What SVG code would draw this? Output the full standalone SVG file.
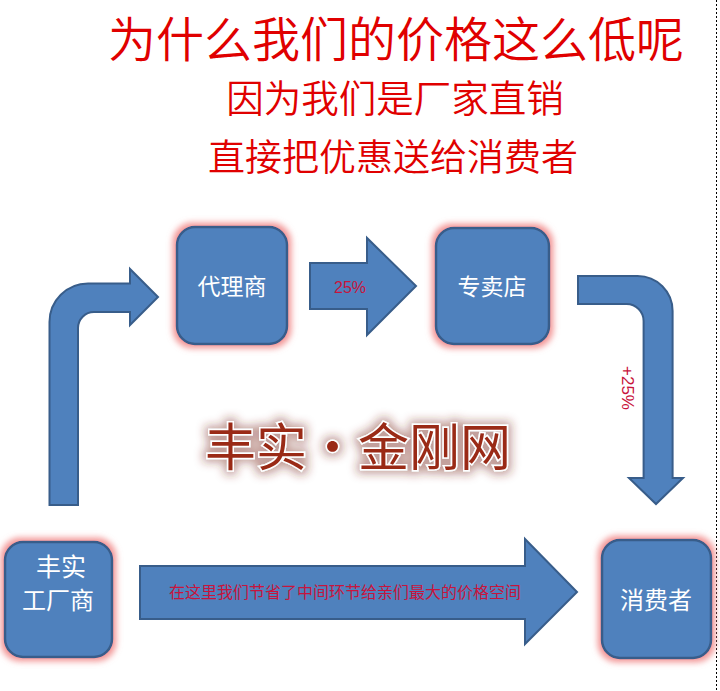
<svg xmlns="http://www.w3.org/2000/svg" width="720" height="691" viewBox="0 0 720 691">
<defs>
<style>
.box{fill:#4F81BD;stroke:#385D8A;stroke-width:2.5;filter:url(#glow)}
.arr{fill:#4F81BD;stroke:#385D8A;stroke-width:2;stroke-linejoin:miter}
.nt{font-family:"Noto Sans CJK SC","Noto Sans",sans-serif;fill:#ffffff;text-anchor:middle}
.title{font-family:"Noto Sans CJK SC",sans-serif;font-weight:350;fill:#e00000;text-anchor:middle}
.lbl{font-family:"Liberation Sans","Noto Sans CJK SC",sans-serif;fill:#c8143c;text-anchor:middle}
.wm{font-family:"Noto Sans CJK SC",sans-serif;font-size:51px;fill:#9a2a18;stroke:#ffffff;stroke-width:3;paint-order:stroke;text-anchor:middle;filter:url(#wmglow)}
</style>
<filter id="glow" x="-20%" y="-20%" width="140%" height="140%">
<feMorphology in="SourceAlpha" operator="dilate" radius="3" result="d"/>
<feGaussianBlur in="d" stdDeviation="3" result="b"/>
<feFlood flood-color="#f08080" flood-opacity="0.85"/>
<feComposite in2="b" operator="in" result="g"/>
<feMerge><feMergeNode in="g"/><feMergeNode in="SourceGraphic"/></feMerge>
</filter>
<filter id="wmglow" x="-20%" y="-40%" width="140%" height="180%">
<feMorphology in="SourceAlpha" operator="dilate" radius="3" result="d"/>
<feGaussianBlur in="d" stdDeviation="5" result="b"/>
<feFlood flood-color="#7a2a20" flood-opacity="0.45"/>
<feComposite in2="b" operator="in" result="g"/>
<feMerge><feMergeNode in="g"/><feMergeNode in="SourceGraphic"/></feMerge>
</filter>
</defs>
<rect width="720" height="691" fill="#ffffff"/>
<line x1="716.5" y1="0" x2="716.5" y2="691" stroke="#000" stroke-width="1" stroke-dasharray="2,2" shape-rendering="crispEdges"/>

<g id="titles">
<text class="title" x="396" y="57" font-size="48">为什么我们的价格这么低呢</text>
<text class="title" x="395" y="112" font-size="37.5">因为我们是厂家直销</text>
<text class="title" x="393" y="171" font-size="37">直接把优惠送给消费者</text>
</g>

<g id="connectors">
<path class="arr" d="M49.5,505 L49.5,322 A38.5,38.5 0 0 1 88,283.5 L130,283.5 L130,269 L158,297 L130,325 L130,312 L94,312 A16,16 0 0 0 78,328 L78,505 Z"/>
<path class="arr" d="M310,263 L367,263 L367,238 L416,286 L367,335 L367,309 L310,309 Z"/>
<text class="lbl" x="350" y="293" font-size="16">25%</text>
<path class="arr" d="M578,276 L637.6,276 A35,35 0 0 1 672.6,311 L672.6,478 L683,478 L656,504 L629,478 L643.6,478 L643.6,321 A17,17 0 0 0 626.6,304 L578,304 Z"/>
<text class="lbl" x="0" y="0" font-size="17" transform="translate(622,388) rotate(90)">+25%</text>
<path class="arr" d="M140,566 L525,566 L525,539 L577,592 L525,644 L525,619 L140,619 Z"/>
<text class="lbl" x="345" y="598" font-size="16" font-family="Noto Sans CJK SC, sans-serif">在这里我们节省了中间环节给亲们最大的价格空间</text>
</g>

<g id="node-dailishang">
<rect class="box" x="177" y="227" width="110" height="117" rx="18"/>
<text class="nt" x="232" y="295" font-size="23">代理商</text>
</g>
<g id="node-zhuanmaidian">
<rect class="box" x="436" y="228" width="113" height="116" rx="18"/>
<text class="nt" x="492" y="295" font-size="23">专卖店</text>
</g>
<g id="node-gongchangshang">
<rect class="box" x="5" y="542" width="107" height="115" rx="18"/>
<text class="nt" x="61" y="576" font-size="25">丰实</text>
<text class="nt" x="58" y="609" font-size="24">工厂商</text>
</g>
<g id="node-xiaofeizhe">
<rect class="box" x="602" y="540" width="109" height="118" rx="18"/>
<text class="nt" x="656" y="609" font-size="24">消费者</text>
</g>

<g id="watermark">
<text class="wm" x="358" y="466">丰实・金刚网</text>
</g>
</svg>
